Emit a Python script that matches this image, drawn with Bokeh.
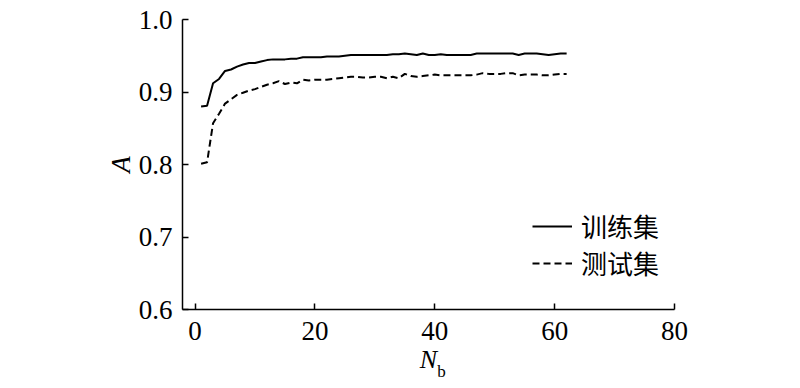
from bokeh.plotting import figure
from bokeh.models import (Range1d, FixedTicker, PrintfTickFormatter, Legend, LegendItem,
                          LinearAxis, CustomJSTickFormatter)
from bokeh.embed import file_html
from bokeh.resources import INLINE

# ---- data ----
nb = list(range(1, 63))
train_acc = [0.880, 0.881, 0.912, 0.918, 0.929, 0.931, 0.935, 0.938, 0.940, 0.940,
             0.942, 0.944, 0.945, 0.945, 0.945, 0.946, 0.946, 0.948, 0.948, 0.948,
             0.948, 0.949, 0.949, 0.949, 0.950, 0.951, 0.951, 0.951, 0.951, 0.951,
             0.951, 0.951, 0.952, 0.952, 0.953, 0.952, 0.951, 0.953, 0.951, 0.951,
             0.952, 0.951, 0.951, 0.951, 0.951, 0.951, 0.953, 0.953, 0.953, 0.953,
             0.953, 0.953, 0.953, 0.951, 0.953, 0.953, 0.953, 0.952, 0.951, 0.952,
             0.953, 0.953]
test_acc = [0.801, 0.803, 0.857, 0.870, 0.884, 0.890, 0.896, 0.899, 0.902, 0.904,
            0.907, 0.910, 0.912, 0.915, 0.911, 0.913, 0.912, 0.917, 0.916, 0.917,
            0.917, 0.917, 0.918, 0.919, 0.920, 0.921, 0.921, 0.920, 0.920, 0.921,
            0.921, 0.919, 0.921, 0.919, 0.925, 0.922, 0.921, 0.922, 0.923, 0.924,
            0.923, 0.923, 0.923, 0.923, 0.923, 0.923, 0.924, 0.926, 0.925, 0.925,
            0.925, 0.926, 0.926, 0.923, 0.924, 0.924, 0.924, 0.923, 0.923, 0.924,
            0.925, 0.925]
x_ticks = [0, 20, 40, 60, 80]
y_ticks = [0.6, 0.7, 0.8, 0.9, 1.0]
series_names = ["训练集", "测试集"]
x_label_main = "N"
x_label_sub = "b"

SERIF = "Liberation Serif"
CJK = "Noto Sans CJK SC"

p = figure(frame_width=492, frame_height=290,
           min_border_left=182, min_border_top=19, min_border_right=126, min_border_bottom=79,
           x_range=Range1d(-2.1, 80), y_range=Range1d(0.6, 1.0),
           output_backend="svg", toolbar_location=None)
p.outline_line_color = None
p.xgrid.visible = False
p.ygrid.visible = False

r1 = p.line(nb, train_acc, line_color="black", line_width=2)
r2 = p.line(nb, test_acc, line_color="black", line_width=2, line_dash="7 4")

for ax in (p.xaxis[0], p.yaxis[0]):
    ax.axis_line_color = "black"
    ax.axis_line_width = 1.5
    ax.major_tick_line_color = "black"
    ax.major_tick_line_width = 1.5
    ax.major_tick_in = 6
    ax.major_tick_out = 0
    ax.minor_tick_line_color = None
    ax.major_label_text_font = SERIF
    ax.major_label_text_font_size = "27px"
    ax.major_label_text_color = "black"
    ax.axis_label_text_font = SERIF
    ax.axis_label_text_font_style = "italic"
    ax.axis_label_text_color = "black"

p.xaxis[0].ticker = FixedTicker(ticks=x_ticks)
p.yaxis[0].ticker = FixedTicker(ticks=y_ticks)
p.yaxis[0].formatter = PrintfTickFormatter(format="%.1f")
p.xaxis[0].major_label_standoff = 12
p.yaxis[0].major_label_standoff = 10
p.xaxis[0].axis_label = x_label_main
p.xaxis[0].axis_label_text_font_size = "26px"
p.xaxis[0].axis_label_standoff = 2
p.yaxis[0].axis_label = "A"
p.yaxis[0].axis_label_text_font_size = "27px"
p.yaxis[0].axis_label_standoff = 0

# subscript "b" of the x-axis label: an invisible helper axis stacked below,
# pulled up next to the "N" with a negative standoff
sub_axis = LinearAxis(ticker=FixedTicker(ticks=[41.1]),
                      formatter=CustomJSTickFormatter(code="return '%s'" % x_label_sub),
                      axis_line_color=None, major_tick_line_color=None,
                      minor_tick_line_color=None,
                      major_tick_in=0, major_tick_out=0,
                      major_label_standoff=-15,
                      major_label_text_font=SERIF, major_label_text_font_size="17px",
                      major_label_text_color="black")
p.add_layout(sub_axis, "below")

legend = Legend(items=[LegendItem(label=series_names[0], renderers=[r1]),
                       LegendItem(label=series_names[1], renderers=[r2])],
                location=(350, 28), padding=0, margin=0, spacing=-6,
                glyph_width=40, glyph_height=30, label_height=30, label_standoff=9,
                label_text_font=CJK, label_text_font_size="26px", label_text_color="black",
                background_fill_alpha=0, border_line_color=None)
p.add_layout(legend)

open("out.html", "w").write(file_html(p, INLINE))
